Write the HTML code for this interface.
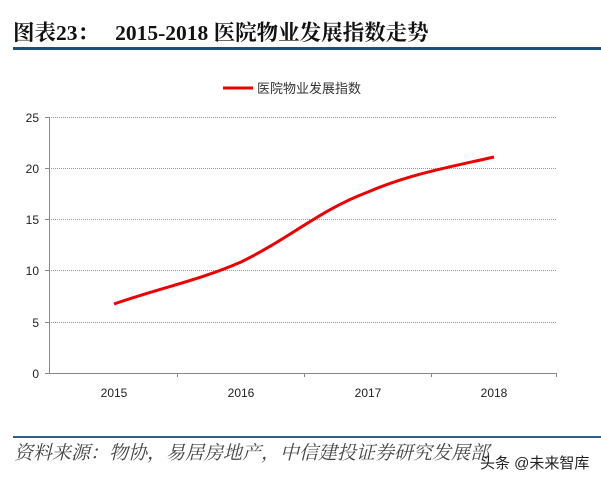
<!DOCTYPE html>
<html><head><meta charset="utf-8"><style>
body{margin:0;background:#fff;width:601px;height:479px;overflow:hidden;position:relative;font-family:"Liberation Sans","Noto Sans CJK SC",sans-serif}
.t{position:absolute;left:13px;top:16px;font:bold 21.5px "Liberation Serif","Noto Serif CJK SC",serif;color:#111;white-space:nowrap}
.bar{position:absolute;left:13px;right:0;top:47px;height:3px;background:#1f4f7f}
.bar2{position:absolute;left:13px;right:0;top:436px;height:2px;background:#2b5f8f}
.src{position:absolute;left:14px;top:438px;font:italic 19px "Noto Serif CJK SC",serif;color:#444;white-space:nowrap}
.wm{position:absolute;left:480px;top:452px;font-size:15px;color:#222;white-space:nowrap}
</style></head><body>
<div class="t">图表23：&nbsp;&nbsp;&nbsp;2015-2018 医院物业发展指数走势</div>
<div class="bar"></div>
<svg width="601" height="479" style="position:absolute;left:0;top:0">
<line x1="223" y1="88" x2="253" y2="88" stroke="#e00" stroke-width="3"/>
<text x="257" y="93" font-size="13" fill="#333" font-family="Liberation Sans,Noto Sans CJK SC,sans-serif">医院物业发展指数</text>
<g stroke="#999" stroke-dasharray="1,1" stroke-width="1">
<line x1="49" y1="117.5" x2="556" y2="117.5"/>
<line x1="49" y1="168.5" x2="556" y2="168.5"/>
<line x1="49" y1="219.5" x2="556" y2="219.5"/>
<line x1="49" y1="270.5" x2="556" y2="270.5"/>
<line x1="49" y1="322.5" x2="556" y2="322.5"/>
</g>
<g stroke="#888" stroke-width="1">
<line x1="49.5" y1="117" x2="49.5" y2="373"/>
<line x1="45" y1="373.5" x2="556" y2="373.5"/>
<line x1="45" y1="117.5" x2="49" y2="117.5"/><line x1="45" y1="168.5" x2="49" y2="168.5"/><line x1="45" y1="219.5" x2="49" y2="219.5"/><line x1="45" y1="270.5" x2="49" y2="270.5"/><line x1="45" y1="322.5" x2="49" y2="322.5"/>
<line x1="177.5" y1="373" x2="177.5" y2="377"/><line x1="304.5" y1="373" x2="304.5" y2="377"/><line x1="431.5" y1="373" x2="431.5" y2="377"/><line x1="556.5" y1="373" x2="556.5" y2="377"/>
</g>
<g font-size="12" fill="#222" text-anchor="end" font-family="Liberation Sans,sans-serif">
<text x="39" y="122">25</text><text x="39" y="173">20</text><text x="39" y="224">15</text><text x="39" y="275">10</text><text x="39" y="327">5</text><text x="39" y="378">0</text>
</g>
<g font-size="12" fill="#222" text-anchor="middle" font-family="Liberation Sans,sans-serif">
<text x="114" y="397">2015</text><text x="241" y="397">2016</text><text x="368" y="397">2017</text><text x="494" y="397">2018</text>
</g>
<path d="M114,304 C160,288 200,280 241,262 C290,238 320,210 368,192 C410,174 450,167 494,157" fill="none" stroke="#e00" stroke-width="3"/>
</svg>
<div class="bar2"></div>
<div class="src">资料来源：物协，易居房地产，中信建投证券研究发展部</div>
<div class="wm">头条 @未来智库</div>
</body></html>
